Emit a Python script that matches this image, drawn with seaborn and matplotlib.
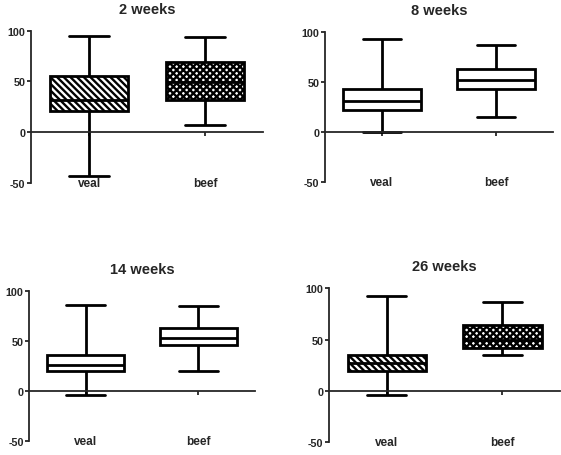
import pandas as pd
import numpy as np
import matplotlib.pyplot as plt
import seaborn as sns

sns.set_style('white')
plt.rcParams['font.family'] = ['Liberation Sans', 'DejaVu Sans']
plt.rcParams['font.weight'] = 'bold'
plt.rcParams['axes.unicode_minus'] = False
plt.rcParams['hatch.linewidth'] = 1.7

# five-number summaries (min, q1, median, q3, max)
weeks = ['2 weeks', '8 weeks', '14 weeks', '26 weeks']
groups = ['veal', 'beef']
veal_min = [-43, 0, -4, -4]
veal_q1 = [21, 22, 20, 19]
veal_med = [32, 31, 26, 27]
veal_q3 = [55, 43, 36, 35]
veal_max = [95, 93, 86, 92]
beef_min = [7, 15, 20, 35]
beef_q1 = [32, 43, 46, 42]
beef_med = [49, 52, 53, 50]
beef_q3 = [69, 63, 63, 64]
beef_max = [94, 87, 85, 87]
hatched = [True, False, False, True]

rows = []
for i, w in enumerate(weeks):
    for g, vals in [('veal', [veal_min[i], veal_q1[i], veal_med[i], veal_q3[i], veal_max[i]]),
                    ('beef', [beef_min[i], beef_q1[i], beef_med[i], beef_q3[i], beef_max[i]])]:
        for v in vals:
            rows.append({'week': w, 'group': g, 'value': v})
df = pd.DataFrame(rows)

fig = plt.figure(figsize=(5.61, 4.56), dpi=100)
positions = [
    [0.0553, 0.5965, 0.4135, 0.334],
    [0.5793, 0.598, 0.4064, 0.329],
    [0.0522, 0.0314, 0.402, 0.329],
    [0.5865, 0.0278, 0.4118, 0.338],
]

for i, w in enumerate(weeks):
    ax = fig.add_axes(positions[i])
    sub = df[df['week'] == w]
    sns.boxplot(data=sub, x='group', y='value', order=groups, whis=(0, 100),
                width=0.68, color='white', linecolor='black', linewidth=2.0,
                ax=ax)
    if hatched[i]:
        boxes = [p for p in ax.patches]
        boxes[0].set_hatch('\\' * 5)
        boxes[1].set_hatch('x' * 5)

    ax.set_xlim(-0.5, 1.5)
    ax.set_ylim(-50, 100)
    ax.set_yticks([-50, 0, 50, 100])
    ax.set_xlabel('')
    ax.set_ylabel('')
    ax.set_xticks([0, 1])
    ax.set_xticklabels(['', ''])
    for s in ['top', 'right']:
        ax.spines[s].set_visible(False)
    ax.spines['bottom'].set_position(('data', 0))
    ax.spines['left'].set_linewidth(1.3)
    ax.spines['bottom'].set_linewidth(1.3)
    ax.tick_params(axis='both', direction='out', length=3, width=1.3,
                   labelsize=7.8, pad=1, left=True, bottom=True)
    for lab in ax.get_yticklabels():
        lab.set_fontweight('bold')
    for j, g in enumerate(groups):
        ax.text(j, 0.0, g, transform=ax.get_xaxis_transform(), ha='center',
                va='center', fontsize=8.5, fontweight='bold')
    ax.set_title(w, fontsize=10.5, fontweight='bold', pad=13)

fig.savefig('out.png', dpi=100)
